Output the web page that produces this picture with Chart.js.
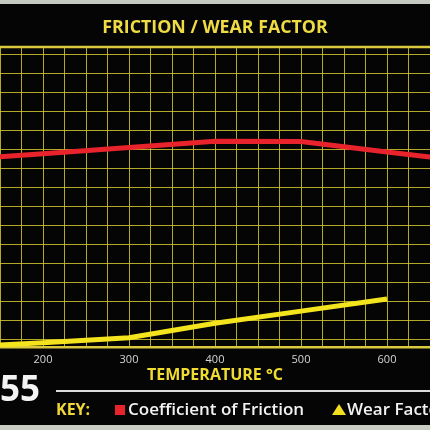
<!DOCTYPE html>
<html>
<head>
<meta charset="utf-8">
<script src="https://cdn.jsdelivr.net/npm/chart.js@4.4.0/dist/chart.umd.min.js"></script>
<style>
  html, body { margin: 0; padding: 0; background: #050505; }
  #wrap { position: relative; width: 430px; height: 430px; overflow: hidden; background: #050505; font-family: 'Open Sans', sans-serif; }
  #topstrip { position: absolute; left: 0; top: 0; width: 430px; height: 4px; background: #c6c8c2; }
  #botstrip { position: absolute; left: 0; top: 425px; width: 430px; height: 5px; background: #c9ccc3; }
  canvas { position: absolute; left: 0; top: 0; }
  #page { position: absolute; left: 0px; top: 370px; font-size: 35px; line-height: 1; font-weight: 700; color: #f4f4f4; }
  #rule { position: absolute; left: 56px; top: 390px; width: 374px; height: 2px; background: #dcdcdc; }
  #key { position: absolute; left: 56px; top: 401px; font-size: 16px; line-height: 1; font-weight: 700; color: #f0d838; white-space: nowrap; }
  .item { position: absolute; top: -1px; color: #f2f2f2; font-size: 17px; font-weight: 600; white-space: nowrap; }
  .sq { display: inline-block; width: 10px; height: 10px; margin-right: 3px; vertical-align: 0px; }
  .tri { display: inline-block; width: 0; height: 0; border-left: 7px solid transparent; border-right: 7px solid transparent; border-bottom: 11px solid #f2e020; margin-right: 1px; vertical-align: 0px; }
</style>
</head>
<body>
<div id="wrap">
  <div id="topstrip"></div>
  <canvas id="c" width="430" height="430"></canvas>
  <div id="page">55</div>
  <div id="rule"></div>
  <div id="key">KEY:</div>
  <div id="botstrip"></div>
</div>
<script>
// ---- data ----
const chartTitle = 'FRICTION / WEAR FACTOR';
const axisTitle = 'TEMPERATURE °C';
const seriesNames = ['Coefficient of Friction', 'Wear Factor'];
const frictionTemps = [150, 200, 300, 400, 500, 600, 650];
const frictionValues = [10.02, 10.18, 10.51, 10.84, 10.82, 10.27, 10.0];
const wearTemps = [150, 200, 300, 400, 500, 600];
const wearValues = [0.11, 0.23, 0.49, 1.25, 1.89, 2.53];
const xTickLabels = [200, 300, 400, 500, 600];
const xGrid = [150, 175, 200, 225, 250, 275, 300, 325, 350, 375, 400, 425, 450, 475, 500, 525, 550, 575, 600, 625, 650];
const yGrid = [0.4, 1.4, 2.4, 3.4, 4.4, 5.4, 6.4, 7.4, 8.4, 9.4, 10.4, 11.4, 12.4, 13.4, 14.4, 15.4];

const RED = '#e8232c';
const YEL = '#f4e41e';
const GRID = 'rgba(212,198,48,0.85)';
const FONT = "'Open Sans', sans-serif";

const topBorder = {
  id: 'topBorder',
  afterDraw(chart) {
    const {ctx, chartArea: a} = chart;
    ctx.save();
    ctx.strokeStyle = '#d9c93e';
    ctx.lineWidth = 2.5;
    ctx.beginPath();
    ctx.moveTo(a.left, a.top);
    ctx.lineTo(a.right, a.top);
    ctx.stroke();
    ctx.restore();
  }
};

const chart = new Chart(document.getElementById('c'), {
  type: 'line',
  data: {
    datasets: [
      {
        label: seriesNames[0],
        data: frictionTemps.map((t, i) => ({x: t, y: frictionValues[i]})),
        borderColor: RED, backgroundColor: RED, borderWidth: 5,
        pointRadius: 0, tension: 0, borderCapStyle: 'butt', borderJoinStyle: 'round'
      },
      {
        label: seriesNames[1],
        data: wearTemps.map((t, i) => ({x: t, y: wearValues[i]})),
        borderColor: YEL, backgroundColor: YEL, borderWidth: 5,
        pointRadius: 0, tension: 0, borderCapStyle: 'butt', borderJoinStyle: 'round'
      }
    ]
  },
  options: {
    responsive: false,
    animation: false,
    devicePixelRatio: 1,
    layout: { autoPadding: false, padding: { left: 0, right: 0, top: 0, bottom: 44.6 } },
    plugins: {
      legend: { display: false },
      tooltip: { enabled: false },
      title: {
        display: true, text: chartTitle, color: '#efdc45',
        font: { family: FONT, size: 17.8, weight: 'bold', lineHeight: 1.2 },
        padding: { top: 17, bottom: 8.6 }
      }
    },
    scales: {
      x: {
        type: 'linear', min: 150, max: 650,
        afterBuildTicks: s => { s.ticks = xGrid.map(v => ({value: v})); },
        afterFit: s => { s.paddingLeft = 0; s.paddingRight = 0; s.height = 38.4; },
        ticks: {
          autoSkip: false, maxRotation: 0, padding: 6, color: '#d6d6d6',
          font: { family: FONT, size: 11, lineHeight: 1.2 },
          callback: v => xTickLabels.includes(v) ? String(v) : ''
        },
        grid: { color: GRID, lineWidth: 1, drawTicks: false },
        border: { display: true, color: '#d9c93e', width: 2.5 },
        title: {
          display: true, text: axisTitle, color: '#f0dc30',
          font: { family: FONT, size: 16, weight: 'bold', lineHeight: 1.2 },
          padding: { top: 0, bottom: 0 }
        }
      },
      y: {
        type: 'linear', min: 0, max: 15.8,
        afterBuildTicks: s => { s.ticks = yGrid.map(v => ({value: v})); },
        ticks: { display: false },
        grid: { color: GRID, lineWidth: 1, drawTicks: false },
        border: { display: false }
      }
    }
  },
  plugins: [topBorder]
});

// key built from the series
const key = document.getElementById('key');
const itemPos = [59, 276];
chart.data.datasets.forEach((ds, i) => {
  const el = document.createElement('span');
  el.className = 'item';
  el.style.left = itemPos[i] + 'px';
  const mark = document.createElement('span');
  if (i === 0) { mark.className = 'sq'; mark.style.background = ds.borderColor; }
  else { mark.className = 'tri'; }
  el.appendChild(mark);
  el.appendChild(document.createTextNode(ds.label));
  key.appendChild(el);
});
</script>
</body>
</html>
